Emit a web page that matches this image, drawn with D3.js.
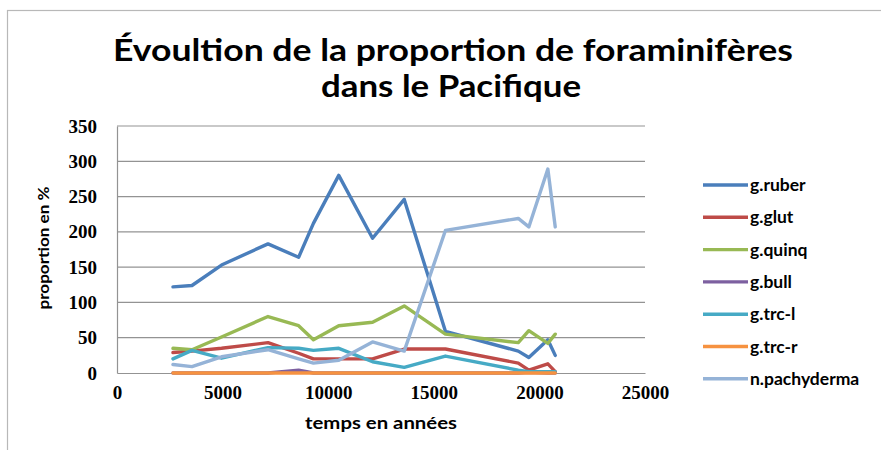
<!DOCTYPE html>
<html><head><meta charset="utf-8">
<script src="https://cdn.jsdelivr.net/npm/d3@7"></script>
<style>body{margin:0;background:#fff;}svg{display:block;}</style>
</head><body>
<script>
const years = [2650, 3550, 4950, 7150, 8600, 9300, 10500, 12100, 13600, 15550, 19000, 19500, 20400, 20750];
const gRuber = [122, 124, 153, 183, 164, 212, 280, 191, 246, 59, 31, 22, 47, 25];
const gGlut = [29, 31, 35, 43, 28, 20, 20, 20, 34, 34, 14, 4, 13, 2];
const gQuinq = [35, 33, 51, 80, 67, 47, 67, 72, 95, 55, 43, 60, 42, 55];
const gBull = [0, 0, 0, 0, 4, 0, 0, 0, 0, 0, 0, 1, 0, 0];
const gTrcL = [20, 32, 21, 36, 35, 32, 35, 16, 8, 24, 4, 2, 2, 2];
const gTrcR = [0, 0, 0, 0, 0, 0, 0, 0, 0, 0, 0, 0, 0, 0];
const nPachyderma = [12, 9, 23, 33, 20, 14, 18, 44, 31, 202, 219, 207, 289, 207];
const seriesNames = ["g.ruber", "g.glut", "g.quinq", "g.bull", "g.trc-l", "g.trc-r", "n.pachyderma"];
const seriesValues = [gRuber, gGlut, gQuinq, gBull, gTrcL, gTrcR, nPachyderma];
const colors = ["#4A7EBB", "#BE4B48", "#98B954", "#7D60A0", "#46AAC5", "#F69240", "#95B3D7"];
const xTicks = [0, 5000, 10000, 15000, 20000, 25000];
const yTicks = [0, 50, 100, 150, 200, 250, 300, 350];
const titleLines = ["Évoultion de la proportion de foraminifères", "dans le Pacifique"];

const W = 881, H = 450;
const svg = d3.select("body").append("svg").attr("width", W).attr("height", H);

svg.append("rect").attr("x", 7.5).attr("y", 10.5).attr("width", 900).attr("height", 460)
  .attr("fill", "#fff").attr("stroke", "#b8b8b8").attr("stroke-width", 1.2);

const x = d3.scaleLinear().domain([0, 25000]).range([117, 645]);
const y = d3.scaleLinear().domain([0, 350]).range([373, 126]);

const sans = "Lato, 'Open Sans', sans-serif";
const serif = "'Liberation Serif', 'DejaVu Serif', serif";

// title
svg.append("text").attr("x", 453).attr("y", 61).attr("text-anchor", "middle")
  .attr("font-family", sans).attr("font-weight", "bold").attr("font-size", 30)
  .attr("textLength", 680).attr("lengthAdjust", "spacingAndGlyphs")
  .text(titleLines[0]);
svg.append("text").attr("x", 451).attr("y", 97).attr("text-anchor", "middle")
  .attr("font-family", sans).attr("font-weight", "bold").attr("font-size", 30)
  .attr("textLength", 260).attr("lengthAdjust", "spacingAndGlyphs")
  .text(titleLines[1]);

// gridlines
svg.append("g").selectAll("line").data(yTicks.filter(d => d > 0)).join("line")
  .attr("x1", 117).attr("x2", 645).attr("y1", d => y(d)).attr("y2", d => y(d))
  .attr("stroke", "#939393").attr("stroke-width", 1.2);

// axes
const yAxis = d3.axisLeft(y).tickValues(yTicks).tickSize(0).tickPadding(20);
const gy = svg.append("g").attr("transform", "translate(117,0)").call(yAxis);
gy.select(".domain").attr("stroke", "#939393").attr("stroke-width", 1.2);
gy.selectAll("text").attr("font-family", serif).attr("font-weight", "bold")
  .attr("font-size", 19).attr("fill", "#000");

const xAxis = d3.axisBottom(x).tickValues(xTicks).tickSize(0).tickPadding(13).tickFormat(d3.format("d"));
const gx = svg.append("g").attr("transform", "translate(0,373)").call(xAxis);
gx.select(".domain").attr("stroke", "#939393").attr("stroke-width", 1.2);
gx.selectAll("text").attr("font-family", serif).attr("font-weight", "bold")
  .attr("font-size", 19).attr("fill", "#000");

// axis titles
svg.append("text").attr("x", 381).attr("y", 429).attr("text-anchor", "middle")
  .attr("font-family", sans).attr("font-weight", "bold").attr("font-size", 17)
  .attr("textLength", 152).attr("lengthAdjust", "spacingAndGlyphs")
  .text("temps en années");
svg.append("text").attr("transform", "translate(49,248) rotate(-90)").attr("text-anchor", "middle")
  .attr("font-family", sans).attr("font-weight", "bold").attr("font-size", 16)
  .attr("textLength", 123).attr("lengthAdjust", "spacingAndGlyphs")
  .text("proportion en %");

// lines
const line = d3.line().x((d, i) => x(years[i])).y(d => y(d));
const lg = svg.append("g");
seriesValues.forEach((vals, k) => {
  lg.append("path").datum(vals).attr("d", line).attr("fill", "none")
    .attr("stroke", colors[k]).attr("stroke-width", 3.4)
    .attr("stroke-linejoin", "round").attr("stroke-linecap", "round");
});

// legend
const leg = svg.append("g");
seriesNames.forEach((name, k) => {
  const ly = 185 + k * 32.3;
  leg.append("line").attr("x1", 703).attr("x2", 748).attr("y1", ly).attr("y2", ly)
    .attr("stroke", colors[k]).attr("stroke-width", 3.4);
  leg.append("text").attr("x", 750).attr("y", ly).attr("dy", "0.35em")
    .attr("font-family", sans).attr("font-weight", "bold").attr("font-size", 17.5)
    .text(name);
});
</script>
</body></html>
